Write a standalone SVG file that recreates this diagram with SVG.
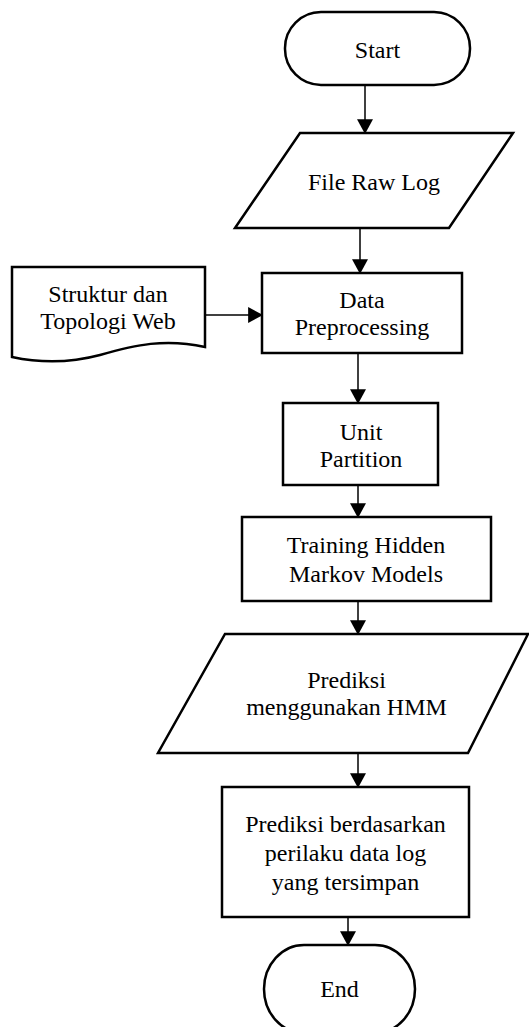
<svg xmlns="http://www.w3.org/2000/svg" width="529" height="1027" viewBox="0 0 529 1027">
  <defs>
    <style>
      .shape { fill: #ffffff; stroke: #000000; stroke-width: 2.5; stroke-linejoin: miter; }
      .link { fill: none; stroke: #000000; stroke-width: 1.5; }
      .label { font-family: "Liberation Serif", "Times New Roman", serif; font-size: 24px; fill: #000000; text-anchor: middle; }
    </style>
    <marker id="arrow" markerUnits="userSpaceOnUse" markerWidth="16" markerHeight="16" viewBox="0 0 14 15" refX="13" refY="7.5" orient="auto">
      <path d="M0,0 L14,7.5 L0,15 Z" fill="#000000"/>
    </marker>
  </defs>
  <rect width="529" height="1027" fill="#ffffff"/>

  <!-- connectors -->
  <g id="connectors">
    <line class="link" x1="365" y1="85" x2="365" y2="133" marker-end="url(#arrow)"/>
    <line class="link" x1="360" y1="228" x2="360" y2="273" marker-end="url(#arrow)"/>
    <line class="link" x1="205" y1="315" x2="262" y2="315" marker-end="url(#arrow)"/>
    <line class="link" x1="358" y1="353" x2="358" y2="403" marker-end="url(#arrow)"/>
    <line class="link" x1="358" y1="485" x2="358" y2="517" marker-end="url(#arrow)"/>
    <line class="link" x1="358" y1="601" x2="358" y2="634" marker-end="url(#arrow)"/>
    <line class="link" x1="358" y1="753" x2="358" y2="787" marker-end="url(#arrow)"/>
    <line class="link" x1="348" y1="917" x2="348" y2="945" marker-end="url(#arrow)"/>
  </g>

  <!-- terminator: Start -->
  <g id="start">
    <rect class="shape" x="285" y="12" width="185" height="73" rx="36" ry="36"/>
    <text class="label" x="377.5" y="58">Start</text>
  </g>

  <!-- input: raw log file -->
  <g id="file-raw-log">
    <polygon class="shape" points="300,133 513,133 449,228 235,228"/>
    <text class="label" x="374" y="190">File Raw Log</text>
  </g>

  <!-- document: site structure -->
  <g id="struktur-web">
    <path class="shape" d="M12,267 H205 V347 C165,338 135,345 100,355 C70,363 40,363 12,357 Z"/>
    <text class="label" x="108" y="302">Struktur dan</text>
    <text class="label" x="108" y="329">Topologi Web</text>
  </g>

  <!-- process: preprocessing -->
  <g id="data-preprocessing">
    <rect class="shape" x="262" y="273" width="200" height="80"/>
    <text class="label" x="362" y="308">Data</text>
    <text class="label" x="362" y="335">Preprocessing</text>
  </g>

  <!-- process: unit partition -->
  <g id="unit-partition">
    <rect class="shape" x="283" y="403" width="155" height="82"/>
    <text class="label" x="361" y="440">Unit</text>
    <text class="label" x="361" y="467">Partition</text>
  </g>

  <!-- process: HMM training -->
  <g id="training-hmm">
    <rect class="shape" x="242" y="517" width="249" height="84"/>
    <text class="label" x="366" y="553">Training Hidden</text>
    <text class="label" x="366" y="582">Markov Models</text>
  </g>

  <!-- output: HMM prediction -->
  <g id="prediksi-hmm">
    <polygon class="shape" points="225,634 528,634 468,753 158,753"/>
    <text class="label" x="346.5" y="688">Prediksi</text>
    <text class="label" x="346.5" y="715">menggunakan HMM</text>
  </g>

  <!-- process: behaviour-based prediction -->
  <g id="prediksi-perilaku">
    <rect class="shape" x="222" y="787" width="247" height="130"/>
    <text class="label" x="345.5" y="832">Prediksi berdasarkan</text>
    <text class="label" x="345.5" y="861">perilaku data log</text>
    <text class="label" x="345.5" y="890">yang tersimpan</text>
  </g>

  <!-- terminator: End -->
  <g id="end">
    <rect class="shape" x="264" y="945" width="151" height="88" rx="40" ry="44"/>
    <text class="label" x="339.5" y="997">End</text>
  </g>
</svg>
